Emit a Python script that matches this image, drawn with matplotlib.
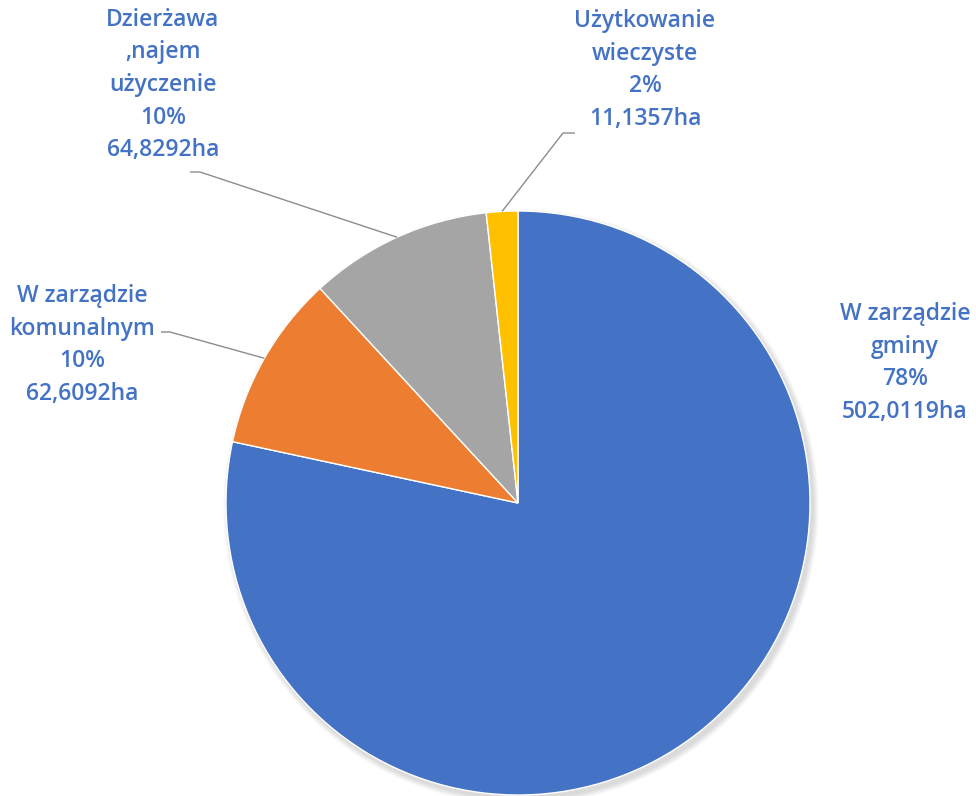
import numpy as np
import matplotlib.pyplot as plt

W, H = 976, 796

# data
categories = ['W zarządzie\ngminy', 'W zarządzie\nkomunalnym', 'Dzierżawa\n,najem\nużyczenie',
              'Użytkowanie\nwieczyste']
areas_ha = [502.0119, 62.6092, 64.8292, 11.1357]
area_labels = ['502,0119ha', '62,6092ha', '64,8292ha', '11,1357ha']
colors = ['#4472C4', '#ED7D31', '#A5A5A5', '#FFC000']

# layout (pixels, y measured from top)
cx, cy, r = 518, 503, 292
label_pos = [(905, 363), (82, 345), (163, 85), (645, 70)]
elbow = [None, (170, 332), (200, 172), (563, 133)]
elbow_end = [None, (161, 332), (190, 172), (575, 133)]

fig = plt.figure(figsize=(W / 100, H / 100), dpi=100)
ax = fig.add_axes([0, 0, 1, 1])

# soft shadow
for k in range(12):
    ax.add_patch(plt.Circle((cx + 3, H - cy - 4), r + 6 - k * 0.5, color='#000000',
                            alpha=0.012, lw=0, zorder=0))

wedges, _ = ax.pie(areas_ha, colors=colors, startangle=90, counterclock=False,
                   center=(cx, H - cy), radius=r, frame=True,
                   wedgeprops=dict(edgecolor='white', linewidth=1.0))
ax.set_xlim(0, W)
ax.set_ylim(0, H)
ax.set_aspect('equal')
ax.axis('off')

total = sum(areas_ha)
for i, w in enumerate(wedges):
    pct = round(areas_ha[i] / total * 100)
    txt = f'{categories[i]}\n{pct}%\n{area_labels[i]}'
    lx, ly = label_pos[i]
    ax.text(lx, H - ly, txt, ha='center', va='center', color='#4472C4',
            fontsize=16.5, fontfamily='Open Sans', fontweight='semibold',
            linespacing=1.48)
    if elbow[i] is not None:
        mid = np.deg2rad((w.theta1 + w.theta2) / 2)
        px = cx + r * np.cos(mid)
        py = (H - cy) + r * np.sin(mid)
        ex, ey = elbow[i]
        fx, fy = elbow_end[i]
        ax.plot([px, ex, fx], [py, H - ey, H - fy], color='#8C8C8C', lw=1.0,
                solid_capstyle='butt', zorder=1)

fig.savefig('out.png', dpi=100, facecolor='white')
